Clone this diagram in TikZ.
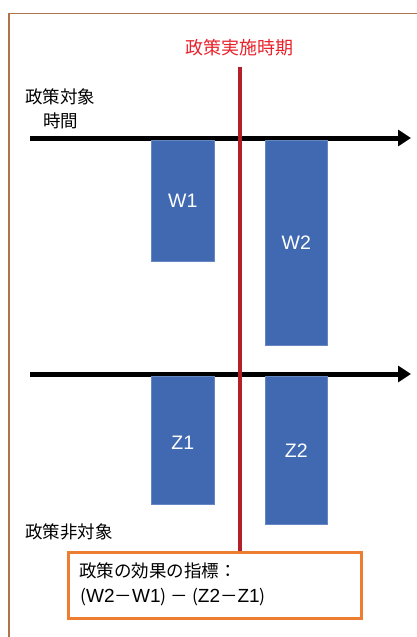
\documentclass[tikz,border=0pt]{standalone}
\usepackage{fontspec}
\setmainfont{Liberation Sans}
\newfontfamily\jp{Noto Sans CJK JP}
\usetikzlibrary{arrows.meta}
\definecolor{barblue}{HTML}{4069B2}
\definecolor{linered}{HTML}{B3202A}
\definecolor{titlered}{HTML}{E8212B}
\definecolor{boxorange}{HTML}{ED7D31}
\definecolor{framebrown}{HTML}{B0744C}
\tikzset{
  bar/.style={fill=barblue, draw=barblue!80!white, line width=0.6pt, inner sep=0pt, anchor=north west},
  barlbl/.style={text=white, font=\fontsize{19.5}{22}\selectfont},
  axis/.style={line width=5pt, -{Triangle[length=13pt,width=16pt]}, shorten >=-3pt},
  lbl/.style={font=\jp\fontsize{17.5}{21}\selectfont, inner sep=0pt, anchor=west}
}
\newcommand{\lat}[1]{{\fontspec{Liberation Sans}\fontsize{19}{21}\selectfont #1}}
\begin{document}
\begin{tikzpicture}[x=1pt,y=-1pt]
\useasboundingbox (0,0) rectangle (417,637);
% frame
\draw[framebrown, line width=1.4pt] (9,640) -- (9,13.5) -- (420,13.5);
% axes
\coordinate (a1s) at (30,138);
\coordinate (a1e) at (408,138);
\coordinate (a2s) at (30,374);
\coordinate (a2e) at (408,374);
\draw[axis] (a1s) -- (a1e);
\draw[axis] (a2s) -- (a2e);
% bars
\node[bar, minimum width=63pt, minimum height=121pt] (w1) at (151,140) {};
\node[bar, minimum width=62pt, minimum height=205pt] (w2) at (265,140) {};
\node[bar, minimum width=63pt, minimum height=128pt] (z1) at (151,376) {};
\node[bar, minimum width=62pt, minimum height=148pt] (z2) at (265,376) {};
\node[barlbl] (w1l) at (w1.center) {W1};
\node[barlbl] (w2l) at (w2.center) {W2};
\node[barlbl] (z1l) at ([yshift=-2pt]z1.center) {Z1};
\node[barlbl] (z2l) at (z2.center) {Z2};
% title
\node[font=\jp\fontsize{18}{21}\selectfont, text=titlered, inner sep=0pt] (title) at (239,48) {政策実施時期};
% labels
\node[lbl] (tgt1) at (25,97) {政策対象};
\node[lbl] (tgt2) at (43,121) {時間};
\node[lbl] (ntgt) at (25,532) {政策非対象};
% box
\node[draw=boxorange, line width=3pt, minimum width=293pt, minimum height=66pt, anchor=north west, inner sep=0pt] (box) at (67,551) {};
\node[lbl] (bt1) at (79,571) {政策の効果の指標：};
\node[lbl] (bt2) at (80,597) {(\lat{W2}－\lat{W1})\hspace{4pt}－\hspace{4pt}(\lat{Z2}－\lat{Z1})};
% red line
\coordinate (rtop) at (240,67);
\draw[linered, line width=4pt] (rtop) -- (box.north -| rtop);
\end{tikzpicture}
\end{document}
